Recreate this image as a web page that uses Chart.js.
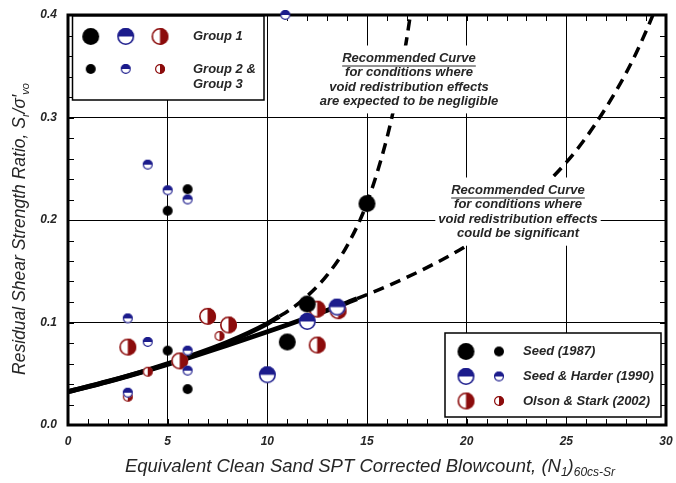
<!DOCTYPE html>
<html>
<head>
<meta charset="utf-8">
<script src="https://cdn.jsdelivr.net/npm/chart.js@4.4.1/dist/chart.umd.min.js"></script>
<style>
  html, body { margin: 0; padding: 0; background: #fff; }
  #wrap { width: 676px; height: 483px; }
</style>
</head>
<body>
<div id="wrap"><canvas id="myChart" width="676" height="483"></canvas></div>
<script>
// ---- data ----
// Seed (1987)
const seedBigN = [11, 12, 15]
const seedBigSr = [0.081, 0.118, 0.216]
const seedSmallN = [5, 6, 5, 6]
const seedSmallSr = [0.209, 0.230, 0.0725, 0.035]

// Seed & Harder (1990)
const harderBigN = [10, 12, 13.5]
const harderBigSr = [0.049, 0.101, 0.115]
const harderSmallN = [3, 4, 3, 4, 5, 6, 6, 6, 10.9]
const harderSmallSr = [0.104, 0.081, 0.0315, 0.254, 0.229, 0.220, 0.0725, 0.053, 0.400]

// Olson & Stark (2002)
const olsonBigN = [3, 5.6, 7, 8.05, 12.5, 12.5, 13.55]
const olsonBigSr = [0.076, 0.0625, 0.106, 0.0976, 0.113, 0.078, 0.1115]
const olsonSmallN = [3, 4, 7.6]
const olsonSmallSr = [0.0276, 0.052, 0.0868]

// recommended curves
const negSolidN = [0, 2, 4, 6, 8, 10, 10.6]
const negSolidSr = [0.0324, 0.0425, 0.0537, 0.0663, 0.0807, 0.0989, 0.106]
const negDashN = [10.6, 11, 12, 13, 14, 15, 16, 16.5, 17, 17.3]
const negDashSr = [0.106, 0.1107, 0.1258, 0.1462, 0.1748, 0.2167, 0.280, 0.3234, 0.3777, 0.4166]
const sigSolidN = [0, 2, 4, 6, 8, 10, 12, 14, 14.5]
const sigSolidSr = [0.0324, 0.0423, 0.0533, 0.0652, 0.0778, 0.0909, 0.1047, 0.1193, 0.1232]
const sigDashN = [14.5, 16, 18, 20, 22, 24, 26, 28, 29, 29.6]
const sigDashSr = [0.1232, 0.1353, 0.1535, 0.1749, 0.2014, 0.2354, 0.2808, 0.3435, 0.3841, 0.4123]

const xTicks = [0, 5, 10, 15, 20, 25, 30]
const yTicks = [0.0, 0.1, 0.2, 0.3, 0.4]

const FONT = "'Liberation Sans', Arial, sans-serif"
const BLUE = '#1c1c8c'
const RED = '#8c0c0c'
const TXT = '#262626'

const pts = (xs, ys) => xs.map((x, i) => ({ x: x, y: ys[i] }))

// marker images
function makeMarker(kind, r) {
    const s = Math.ceil(2 * r + 4)
    const c = document.createElement('canvas')
    c.width = s
    c.height = s
    const g = c.getContext('2d')
    const m = s / 2
    if (kind === 'seed') {
        g.fillStyle = '#000'
        g.beginPath()
        g.arc(m, m, r, 0, 2 * Math.PI)
        g.fill()
        return c
    }
    const col = kind === 'harder' ? BLUE : RED
    const lw = r > 6 ? 1.6 : 1.2
    g.fillStyle = '#fff'
    g.beginPath()
    g.arc(m, m, r, 0, 2 * Math.PI)
    g.fill()
    g.fillStyle = col
    g.beginPath()
    if (kind === 'harder') g.arc(m, m, r, Math.PI, 2 * Math.PI)
    else g.arc(m, m, r, -Math.PI / 2, Math.PI / 2)
    g.closePath()
    g.fill()
    g.strokeStyle = col
    g.lineWidth = lw
    g.beginPath()
    g.arc(m, m, r - lw / 2, 0, 2 * Math.PI)
    g.stroke()
    return c
}

const BIG = 8.5, SMALL = 5
const mk = {
    seedBig: makeMarker('seed', BIG), seedSmall: makeMarker('seed', SMALL),
    harderBig: makeMarker('harder', BIG), harderSmall: makeMarker('harder', SMALL),
    olsonBig: makeMarker('olson', BIG), olsonSmall: makeMarker('olson', SMALL)
}

function pointSet(label, xs, ys, img, order) {
    return {
        label: label,
        data: pts(xs, ys),
        pointStyle: img,
        pointRadius: 9,
        showLine: false,
        clip: false,
        order: order
    }
}

function curveSet(label, xs, ys, dashed) {
    return {
        label: label,
        data: pts(xs, ys),
        showLine: true,
        pointRadius: 0,
        borderColor: '#000',
        borderWidth: dashed ? 3.5 : 4.8,
        borderDash: dashed ? [11, 7] : [],
        cubicInterpolationMode: 'monotone',
        order: 10
    }
}

const data = {
    datasets: [
        pointSet('Seed & Harder (1990) G1', harderBigN, harderBigSr, mk.harderBig, 0),
        pointSet('Seed & Harder (1990) G2', harderSmallN, harderSmallSr, mk.harderSmall, 1),
        pointSet('Seed (1987) G1', seedBigN, seedBigSr, mk.seedBig, 2),
        pointSet('Seed (1987) G2', seedSmallN, seedSmallSr, mk.seedSmall, 3),
        pointSet('Olson & Stark (2002) G1', olsonBigN, olsonBigSr, mk.olsonBig, 4),
        pointSet('Olson & Stark (2002) G2', olsonSmallN, olsonSmallSr, mk.olsonSmall, 5),
        curveSet('negligible', negSolidN, negSolidSr, false),
        curveSet('negligible dashed', negDashN, negDashSr, true),
        curveSet('significant', sigSolidN, sigSolidSr, false),
        curveSet('significant dashed', sigDashN, sigDashSr, true)
    ]
}

const tickFont = { family: FONT, size: 12, style: 'italic', weight: 'bold' }

const option = {
    responsive: false,
    animation: false,
    events: [],
    layout: { padding: { top: 15, right: 8, left: 0, bottom: 0 } },
    plugins: { legend: { display: false }, tooltip: { enabled: false } },
    scales: {
        x: {
            type: 'linear', min: 0, max: 30,
            afterFit: (s) => { s.height = 58; s.paddingLeft = 0; s.paddingRight = 0 },
            afterBuildTicks: (s) => { s.ticks = xTicks.map(v => ({ value: v })) },
            grid: { color: '#000', lineWidth: 1, drawTicks: false },
            border: { display: false },
            ticks: { font: tickFont, color: TXT, padding: 9, maxRotation: 0 }
        },
        y: {
            type: 'linear', min: 0, max: 0.4,
            afterFit: (s) => { s.width = 68; s.paddingTop = 0; s.paddingBottom = 0 },
            afterBuildTicks: (s) => { s.ticks = yTicks.map(v => ({ value: v })) },
            grid: { color: '#000', lineWidth: 1, drawTicks: false },
            border: { display: false },
            ticks: { font: tickFont, color: TXT, padding: 11, callback: (v) => Number(v).toFixed(1) }
        }
    }
}

// text with subscripts: parts = [[text, isSub], ...]
function drawSubText(g, parts, cx, cy, size) {
    const big = 'italic ' + size + 'px ' + FONT
    const small = 'italic ' + Math.round(size * 0.64) + 'px ' + FONT
    let w = 0
    parts.forEach(p => { g.font = p[1] ? small : big; w += g.measureText(p[0]).width })
    let x = cx - w / 2
    g.textBaseline = 'middle'
    g.textAlign = 'left'
    parts.forEach(p => {
        g.font = p[1] ? small : big
        g.fillText(p[0], x, p[1] ? cy + size * 0.33 : cy)
        x += g.measureText(p[0]).width
    })
}

function noteBlock(g, cx, lines, y0, dy) {
    g.font = 'italic bold 13px ' + FONT
    let wmax = 0
    lines.forEach(t => { wmax = Math.max(wmax, g.measureText(t).width) })
    g.fillStyle = '#fff'
    g.fillRect(cx - wmax / 2 - 3, y0 - 13, wmax + 6, dy * (lines.length - 1) + 25)
    g.fillStyle = TXT
    g.textAlign = 'center'
    g.textBaseline = 'middle'
    lines.forEach((t, i) => g.fillText(t, cx, y0 + i * dy))
    const uw = g.measureText(lines[0]).width
    g.strokeStyle = TXT
    g.lineWidth = 1
    g.beginPath()
    g.moveTo(cx - uw / 2, y0 + 7.5)
    g.lineTo(cx + uw / 2, y0 + 7.5)
    g.stroke()
}

const decor = {
    id: 'decor',
    beforeDatasetsDraw: (chart) => {
        const g = chart.ctx
        const a = chart.chartArea
        const xs = chart.scales.x, ys = chart.scales.y
        g.save()
        g.strokeStyle = '#000'
        g.lineWidth = 1
        g.beginPath()
        for (let i = 1; i < 30; i++) {
            const px = Math.round(xs.getPixelForValue(i)) + 0.5
            g.moveTo(px, a.bottom); g.lineTo(px, a.bottom - 6)
            g.moveTo(px, a.top); g.lineTo(px, a.top + 6)
        }
        for (let j = 1; j < 20; j++) {
            const py = Math.round(ys.getPixelForValue(j * 0.02)) + 0.5
            g.moveTo(a.left, py); g.lineTo(a.left + 6, py)
            g.moveTo(a.right, py); g.lineTo(a.right - 6, py)
        }
        g.stroke()
        g.lineWidth = 3
        g.strokeRect(a.left, a.top, a.right - a.left, a.bottom - a.top)
        g.restore()
    },
    afterDatasetsDraw: (chart) => {
        const g = chart.ctx
        g.save()
        noteBlock(g, 409, ['Recommended Curve', 'for conditions where',
            'void redistribution effects', 'are expected to be negligible'], 58.5, 14.3)
        noteBlock(g, 518, ['Recommended Curve', 'for conditions where',
            'void redistribution effects', 'could be significant'], 190.5, 14.4)

        // legend 1: groups
        g.fillStyle = '#fff'
        g.fillRect(72.5, 16, 191.5, 84)
        g.strokeStyle = '#000'
        g.lineWidth = 1.5
        g.strokeRect(72.5, 16, 191.5, 84)
        const put = (img, x, y) => g.drawImage(img, x - img.width / 2, y - img.height / 2)
        put(mk.seedBig, 90.7, 36.5); put(mk.harderBig, 125.7, 36.5); put(mk.olsonBig, 160, 36.5)
        put(mk.seedSmall, 90.7, 69); put(mk.harderSmall, 125.7, 69); put(mk.olsonSmall, 160, 69)
        g.fillStyle = TXT
        g.font = 'italic bold 13px ' + FONT
        g.textAlign = 'left'
        g.textBaseline = 'middle'
        g.fillText('Group 1', 193, 36.5)
        g.fillText('Group 2 &', 193, 69)
        g.fillText('Group 3', 193, 84)

        // legend 2: sources
        g.fillStyle = '#fff'
        g.fillRect(445, 333, 216, 84)
        g.strokeStyle = '#000'
        g.lineWidth = 1.5
        g.strokeRect(445, 333, 216, 84)
        put(mk.seedBig, 466, 351.5); put(mk.seedSmall, 499, 351.5)
        put(mk.harderBig, 466, 376.5); put(mk.harderSmall, 499, 376.5)
        put(mk.olsonBig, 466, 401); put(mk.olsonSmall, 499, 401)
        g.fillStyle = TXT
        g.fillText('Seed (1987)', 523, 351.5)
        g.fillText('Seed & Harder (1990)', 523, 376.5)
        g.fillText('Olson & Stark (2002)', 523, 401)
        g.restore()
    },
    afterDraw: (chart) => {
        const g = chart.ctx
        g.save()
        g.fillStyle = TXT
        drawSubText(g, [['Equivalent Clean Sand SPT Corrected Blowcount, (N', false], ['1', true],
            [')', false], ['60cs-Sr', true]], 370, 467, 18.5)
        g.translate(20, 229)
        g.rotate(-Math.PI / 2)
        drawSubText(g, [['Residual Shear Strength Ratio, S', false], ['r', true],
            ['/\u03c3\u2032', false], ['vo', true]], 0, 0, 17.5)
        g.restore()
    }
}

const ctx = document.getElementById('myChart').getContext('2d')
const myChart = new Chart(ctx, {
    type: 'scatter',
    data: data,
    options: option,
    plugins: [decor]
})
</script>
</body>
</html>
